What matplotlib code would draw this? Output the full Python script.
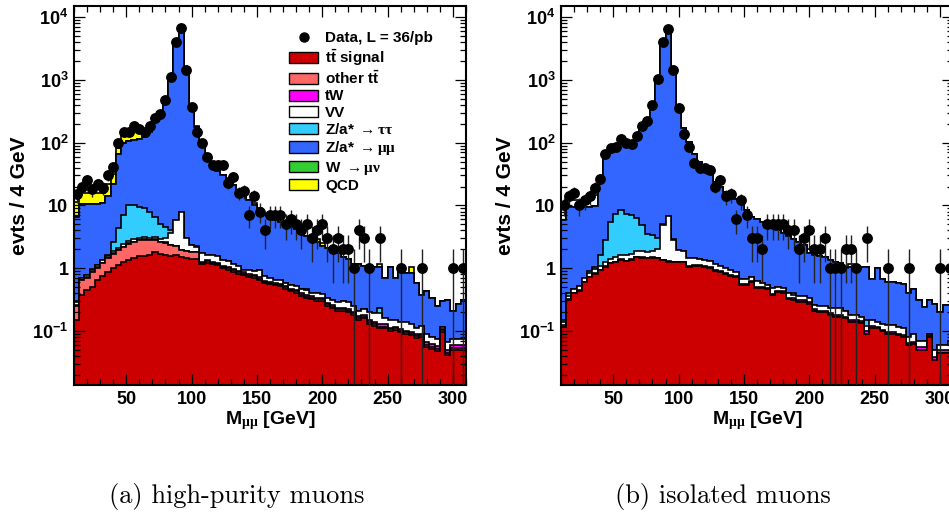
import numpy as np
import matplotlib
matplotlib.use("Agg")
import matplotlib.pyplot as plt
from matplotlib.patches import Patch
from matplotlib.lines import Line2D
from matplotlib.ticker import MultipleLocator, LogLocator, FuncFormatter, NullFormatter

plt.rcParams['font.family'] = ['Liberation Sans', 'DejaVu Sans']
plt.rcParams['font.weight'] = 'bold'
plt.rcParams['mathtext.fontset'] = 'custom'
plt.rcParams['mathtext.rm'] = 'Liberation Serif'
plt.rcParams['mathtext.it'] = 'Liberation Serif:italic'
plt.rcParams['mathtext.bf'] = 'Liberation Sans:bold'

# 4 GeV bins from 10 to 310 GeV
edges = np.arange(10, 311, 4)
centers = edges[:-1] + 2

# ---- (a) high-purity muons ----
hp_data = [15, 20, 25, 18, 22, 19, 30, 41, 97, 148,
           148, 184, 162, 145, 181, 251, 290, 486, 1090, 4080,
           6580, 1450, 376, 148, 97, 58, 44, 44, 44, 23,
           28, 16, 17, 7, 14, 8, 4, 7, 7, 7,
           5, 6, 5, 4, 5, 3, 4, 5, 3, 2,
           3, 2, 2, 1, 4, 3, 1, 0, 3, 0,
           0, 0, 1, 0, 0, 0, 1, 0, 0, 0,
           0, 0, 1, 0, 1]
hp_ttsig = [0.148, 0.37, 0.45, 0.50, 0.66, 0.75, 0.87, 1.02, 1.12, 1.26,
            1.34, 1.46, 1.55, 1.55, 1.65, 1.78, 1.67, 1.65, 1.55, 1.60,
            1.51, 1.46, 1.39, 1.39, 1.16, 1.23, 1.16, 1.12, 1.00, 0.95,
            0.88, 0.82, 0.78, 0.72, 0.70, 0.64, 0.58, 0.56, 0.54, 0.52,
            0.47, 0.43, 0.41, 0.36, 0.33, 0.32, 0.30, 0.30, 0.25, 0.23,
            0.21, 0.21, 0.20, 0.18, 0.15, 0.16, 0.13, 0.12, 0.11, 0.11,
            0.10, 0.105, 0.095, 0.09, 0.085, 0.077, 0.08, 0.056, 0.052, 0.048,
            0.097, 0.041, 0.05, 0.05, 0.05]
hp_ttother = [0.10, 0.27, 0.26, 0.37, 0.36, 0.46, 0.56, 0.69, 0.81, 0.92,
              1.13, 1.16, 1.24, 1.30, 1.14, 1.07, 0.95, 0.90, 0.77, 0.65,
              0.42, 0.39, 0.39, 0.39, 0.07, 0.07, 0.07, 0.06, 0.06, 0.05,
              0.05, 0.05, 0.04, 0.04, 0.04, 0.04, 0.03, 0.03, 0.03, 0.03,
              0.03, 0.025, 0.02, 0.02, 0.02, 0.02, 0.02, 0.02, 0.015, 0.015,
              0.012, 0.012, 0.012, 0.01, 0.01, 0.01, 0.008, 0.008, 0.007, 0.007,
              0.006, 0.006, 0.006, 0.005, 0.005, 0.005, 0.005, 0.004, 0.004, 0.003,
              0.006, 0.003, 0.003, 0.003, 0.003]
hp_tw = [0.01, 0.01, 0.01, 0.01, 0.01, 0.01, 0.01, 0.01, 0.01, 0.01,
         0.01, 0.03, 0.03, 0.03, 0.03, 0.03, 0.03, 0.03, 0.03, 0.03,
         0.03, 0.03, 0.03, 0.03, 0.04, 0.04, 0.04, 0.04, 0.04, 0.04,
         0.04, 0.04, 0.04, 0.04, 0.04, 0.04, 0.02, 0.02, 0.02, 0.02,
         0.02, 0.02, 0.02, 0.02, 0.02, 0.02, 0.02, 0.02, 0.012, 0.012,
         0.012, 0.012, 0.012, 0.012, 0.012, 0.012, 0.012, 0.012, 0.012, 0.012,
         0.006, 0.006, 0.006, 0.006, 0.006, 0.006, 0.006, 0.006, 0.006, 0.006,
         0.006, 0.006, 0.006, 0.006, 0.006]
hp_vv = [0.032, 0.05, 0.06, 0.07, 0.09, 0.11, 0.13, 0.16, 0.18, 0.21,
         0.22, 0.23, 0.23, 0.22, 0.23, 0.27, 0.30, 0.42, 1.25, 3.52,
         5.94, 1.12, 0.49, 0.39, 0.48, 0.27, 0.34, 0.33, 0.24, 0.26,
         0.18, 0.19, 0.09, 0.13, 0.12, 0.21, 0.12, 0.09, 0.07, 0.07,
         0.06, 0.075, 0.08, 0.07, 0.08, 0.04, 0.06, 0.05, 0.053, 0.053,
         0.056, 0.066, 0.066, 0.048, 0.038, 0.038, 0.05, 0.05, 0.061, 0.031,
         0.038, 0.033, 0.033, 0.039, 0.034, 0.022, 0.029, 0.024, 0.018, 0.018,
         0.005, 0.017, 0.016, 0.016, 0.016]
hp_ztt = [0.01, 0.01, 0.01, 0.01, 0.01, 0.02, 0.08, 0.74, 2.2, 4.6,
          7.4, 7.2, 6.45, 5.9, 4.85, 3.45, 2.2, 1.55, 0.5, 0.1,
          0.1, 0.02, 0.02, 0.02, 0, 0, 0, 0, 0, 0,
          0, 0, 0, 0, 0, 0, 0, 0, 0, 0,
          0, 0, 0, 0, 0.02, 0, 0, 0, 0, 0,
          0, 0, 0, 0, 0, 0, 0, 0, 0.04, 0,
          0, 0, 0, 0, 0, 0, 0, 0, 0, 0,
          0, 0, 0, 0, 0]
hp_zmm = [6.3, 10.0, 9.9, 9.5, 9.4, 9.45, 12.3, 19.4, 60.7, 93,
          95, 100, 105, 116, 142, 208, 285, 425, 996, 3494,
          5892, 1497, 393, 176, 101, 63.4, 44.4, 34.4, 29.1, 24.7,
          19.8, 14.9, 13.0, 11.05, 9.1, 7.5, 6.6, 5.7, 5.3, 4.9,
          4.4, 4.1, 3.75, 3.1, 2.83, 2.38, 2.18, 1.89, 1.75, 1.57,
          1.44, 1.23, 1.09, 0.92, 0.96, 0.88, 0.88, 0.84, 0.82, 0.55,
          0.88, 0.56, 0.89, 0.71, 0.72, 0.47, 0.26, 0.34, 0.25, 0.175,
          0.19, 0.243, 0.135, 0.195, 0.235]
hp_wmn = [0] * 75
hp_qcd = [4.8, 5.3, 5.3, 5.5, 5.5, 5.2, 8, 10, 18, 30,
          30, 42, 35, 20, 10, 8, 4, 2, 0, 0,
          0, 0, 3, 8, 0, 0, 3, 0, 0, 1.5,
          0, 0, 0, 0, 0.8, 0.6, 0, 0, 0, 0.5,
          0.5, 0.3, 0, 0, 0, 0, 0.3, 0.2, 0, 0.25,
          0.2, 0, 0, 0, 0, 0, 0, 0, 0.1, 0,
          0, 0, 0, 0, 0.18, 0, 0, 0, 0, 0,
          0, 0, 0, 0, 0]

# ---- (b) isolated muons ----
iso_data = [10, 14, 16, 10, 12, 14, 19, 26, 65, 82,
            85, 116, 99, 94, 128, 185, 222, 400, 1020, 4000,
            6560, 1450, 356, 136, 85, 48, 40, 40, 36, 20,
            25, 14, 15, 6, 12, 7, 3, 3, 2, 5,
            5, 5, 5, 4, 4, 2, 3, 4, 2, 2,
            3, 1, 1, 1, 2, 2, 1, 0, 3, 0,
            0, 0, 1, 0, 0, 0, 1, 0, 0, 0,
            0, 0, 1, 0, 1]
iso_ttsig = [0.116, 0.31, 0.40, 0.44, 0.60, 0.72, 0.82, 0.93, 1.05, 1.19,
             1.25, 1.37, 1.30, 1.37, 1.51, 1.48, 1.43, 1.48, 1.43, 1.33,
             1.27, 1.25, 1.25, 1.24, 1.05, 1.08, 1.10, 1.05, 1.00, 0.90,
             0.87, 0.80, 0.75, 0.72, 0.54, 0.54, 0.60, 0.49, 0.48, 0.46,
             0.37, 0.42, 0.41, 0.32, 0.31, 0.29, 0.29, 0.27, 0.21, 0.20,
             0.20, 0.18, 0.17, 0.17, 0.16, 0.14, 0.14, 0.135, 0.09, 0.11,
             0.11, 0.10, 0.09, 0.09, 0.085, 0.08, 0.06, 0.062, 0.05, 0.05,
             0.08, 0.034, 0.044, 0.044, 0.044]
iso_ttother = [0] * 75
iso_tw = [0.01, 0.01, 0.01, 0.01, 0.01, 0.01, 0.01, 0.02, 0.02, 0.02,
          0.02, 0.02, 0.02, 0.02, 0.02, 0.02, 0.02, 0.02, 0.02, 0.02,
          0.02, 0.02, 0.02, 0.02, 0.03, 0.03, 0.03, 0.03, 0.03, 0.03,
          0.03, 0.03, 0.03, 0.03, 0.03, 0.03, 0.02, 0.02, 0.02, 0.02,
          0.02, 0.02, 0.02, 0.02, 0.02, 0.02, 0.02, 0.02, 0.01, 0.01,
          0.01, 0.01, 0.01, 0.01, 0.01, 0.01, 0.01, 0.01, 0.01, 0.01,
          0.005, 0.005, 0.005, 0.005, 0.005, 0.005, 0.005, 0.005, 0.005, 0.005,
          0.005, 0.005, 0.005, 0.005, 0.005]
iso_vv = [0.014, 0.04, 0.05, 0.07, 0.09, 0.11, 0.13, 0.15, 0.18, 0.19,
          0.23, 0.26, 0.28, 0.31, 0.32, 0.35, 0.35, 0.40, 0.55, 3.61,
          5.41, 1.59, 0.66, 0.59, 0.40, 0.34, 0.29, 0.27, 0.25, 0.22,
          0.20, 0.17, 0.17, 0.11, 0.10, 0.10, 0.10, 0.11, 0.08, 0.07,
          0.09, 0.06, 0.05, 0.06, 0.05, 0.05, 0.05, 0.05, 0.04, 0.04,
          0.04, 0.04, 0.05, 0.05, 0.04, 0.03, 0.03, 0.025, 0.02, 0.03,
          0.025, 0.025, 0.03, 0.03, 0.025, 0.025, 0.015, 0.023, 0.015, 0.015,
          0.005, 0.011, 0.011, 0.011, 0.021]
iso_ztt = [0.01, 0.04, 0.01, 0.01, 0.01, 0.05, 0.08, 0.51, 1.54, 4.1,
           5.9, 6.95, 5.8, 5.3, 4.35, 2.95, 1.77, 1.45, 1.08, 0.05,
           0.05, 0.02, 0.02, 0.02, 0, 0, 0, 0, 0, 0,
           0, 0, 0, 0, 0, 0, 0, 0, 0, 0,
           0, 0, 0, 0, 0.02, 0, 0, 0, 0, 0,
           0, 0, 0, 0, 0, 0, 0, 0, 0.03, 0,
           0, 0, 0, 0, 0, 0, 0, 0, 0, 0,
           0, 0, 0, 0, 0]
iso_zmm = [5.65, 9.1, 9.0, 9.0, 8.8, 8.6, 8.8, 22.1, 56.2, 69.5,
           77.6, 103, 97.6, 93, 125, 163, 237, 443, 981, 4300,
           5790, 1417, 368, 169, 100.5, 65.5, 47.6, 39.6, 30.7, 22.5,
           18.9, 15.4, 14.5, 12.0, 10.7, 7.7, 5.9, 5.4, 4.8, 4.25,
           3.9, 3.5, 3.1, 2.9, 2.5, 2.24, 1.94, 1.38, 1.34, 1.3,
           1.25, 1.12, 1.03, 0.97, 0.79, 0.87, 0.87, 0.88, 0.9, 0.53,
           0.86, 0.55, 0.475, 0.475, 0.465, 0.46, 0.32, 0.38, 0.24, 0.17,
           0.22, 0.22, 0.14, 0.2, 0.19]
iso_wmn = [0] * 75
iso_qcd = [3.1, 2.6, 2.6, 2.6, 2.6, 2.6, 5, 0, 0, 0,
           0, 0, 0, 0, 0, 0, 0, 0, 0, 0,
           0, 0, 0, 0, 0, 0, 0, 0, 0, 0,
           0, 0, 0, 0, 0, 0, 0, 0, 0, 0,
           0, 0, 0, 0, 0, 0, 0, 0.3, 0, 0,
           0, 0, 0, 0, 0, 0.1, 0, 0, 0, 0,
           0, 0, 0, 0, 0, 0, 0, 0, 0, 0,
           0, 0, 0, 0, 0]

labels = ['Data, L = 36/pb', r'$\mathbf{t\bar{t}}$ signal', r'other $\mathbf{t\bar{t}}$', 'tW', 'VV',
          r'Z/a* $\rightarrow \mathrm{\tau\tau}$', r'Z/a* $\rightarrow \mathrm{\mu\mu}$',
          r'W $\rightarrow \mathrm{\mu\nu}$', 'QCD']
colors = ['#cc0000', '#ff6666', '#ff00ff', '#ffffff', '#33ccff', '#3366ff', '#33cc33', '#ffff00']


def ylab(v, pos):
    if v == 1:
        return '1'
    if v == 10:
        return '10'
    return r'$\mathbf{10^{%d}}$' % int(round(np.log10(v)))


def draw(ax, comps, data, cols):
    cum = np.cumsum(np.array(comps, dtype=float), axis=0)
    # draw the stack from the top down, like THStack
    for level, col in reversed(list(zip(cum, cols))):
        ax.stairs(level, edges, baseline=1e-4, fill=True, facecolor=col,
                  edgecolor='black', linewidth=1.2)
    data = np.array(data, dtype=float)
    m = data > 0
    err = np.sqrt(data[m])
    lo = np.minimum(err, data[m] * 0.9999)
    ax.errorbar(centers[m], data[m], yerr=[lo, err], fmt='o', color='black',
                ms=6.8, elinewidth=1.0, ecolor='#222222', capsize=0, zorder=5)

    ax.set_yscale('log')
    ax.set_xlim(10, 310)
    ax.set_ylim(0.0138, 15000)
    ax.xaxis.set_major_locator(MultipleLocator(50))
    ax.xaxis.set_minor_locator(MultipleLocator(10))
    ax.yaxis.set_major_locator(LogLocator(base=10, numticks=20))
    ax.yaxis.set_minor_locator(LogLocator(base=10, subs=np.arange(2, 10), numticks=20))
    ax.yaxis.set_major_formatter(FuncFormatter(ylab))
    ax.yaxis.set_minor_formatter(NullFormatter())
    ax.tick_params(which='both', direction='in', top=True, right=True, width=0.9)
    ax.tick_params(which='major', length=8, labelsize=13, pad=4)
    ax.tick_params(which='minor', length=4)
    for s in ax.spines.values():
        s.set_linewidth(1.5)


fig = plt.figure(figsize=(9.49, 5.13), dpi=100)
ax1 = fig.add_axes([74 / 949, 128 / 513, 392 / 949, 379 / 513])
ax2 = fig.add_axes([561 / 949, 128 / 513, 392 / 949, 379 / 513])

draw(ax1, [hp_ttsig, hp_ttother, hp_tw, hp_vv, hp_ztt, hp_zmm, hp_wmn, hp_qcd], hp_data, colors)
# in the isolated selection the QCD layer shows up unfilled
draw(ax2, [iso_ttsig, iso_ttother, iso_tw, iso_vv, iso_ztt, iso_zmm, iso_wmn, iso_qcd], iso_data,
     colors[:-1] + ['#ffffff'])

handles = [Line2D([], [], marker='o', color='black', ls='none', ms=6.5)]
handles += [Patch(facecolor=c, edgecolor='black', linewidth=1.0) for c in colors]
ax1.legend(handles, labels, loc='upper left', bbox_to_anchor=(289 / 949, 1 - 31 / 513),
           bbox_transform=fig.transFigure, frameon=False, fontsize=11,
           handlelength=1.9, handleheight=0.75, handletextpad=0.45,
           labelspacing=0.15, borderpad=0, borderaxespad=0)

for xc in (20, 505):
    fig.text(xc / 949, 1 - 196 / 513, 'evts / 4 GeV', rotation=90, ha='center', va='center',
             fontsize=15, fontweight='bold')
for xc in (270, 757):
    fig.text(xc / 949, 1 - 421 / 513, r'M$_{\mathrm{\mu\mu}}$ [GeV]', ha='center', va='center',
             fontsize=14, fontweight='bold')

fig.text(237 / 949, 1 - 497 / 513, '(a) high-purity muons', family='cmr10', fontweight='normal',
         fontsize=19, ha='center', va='center')
fig.text(723 / 949, 1 - 497 / 513, '(b) isolated muons', family='cmr10', fontweight='normal',
         fontsize=19, ha='center', va='center')

fig.savefig('out.png', dpi=100)
